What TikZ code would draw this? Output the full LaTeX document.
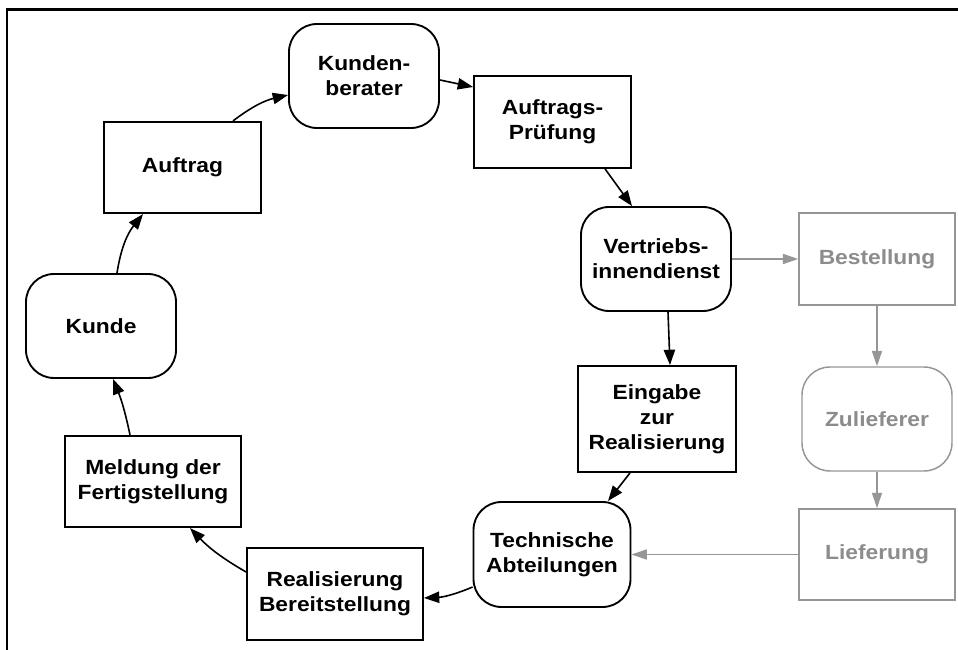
\documentclass[tikz,border=0pt]{standalone}
\usepackage{fontspec}
\setmainfont{Liberation Sans}[FakeStretch=1.11]
\usetikzlibrary{arrows.meta}
\definecolor{lgray}{RGB}{150,150,150}
\definecolor{tgray}{RGB}{140,140,140}
\begin{document}
\begin{tikzpicture}[x=0.75pt,y=0.75pt,
  every node/.style={font=\bfseries\fontsize{15.4pt}{18.75pt}\selectfont, align=center, inner sep=0pt},
  sq/.style={draw=black, line width=1.4pt, minimum width=117.75pt, minimum height=68.5pt},
  rd/.style={draw=black, line width=1.4pt, rounded corners=21pt, minimum width=112.5pt, minimum height=78pt},
  gsq/.style={sq, draw=lgray, line width=1.1pt, text=tgray},
  grd/.style={rd, draw=lgray, line width=1.1pt, text=tgray},
  arr/.style={line width=1.2pt, -{Triangle[length=11.5pt,width=8.5pt]}},
  garr/.style={line width=1.2pt, draw=lgray, -{Triangle[length=11.5pt,width=7.5pt]}, color=lgray}
]
\useasboundingbox (0,0) rectangle (958,650);
\draw[line width=1.6pt] (7,-5) -- (7,640.5) -- (965,640.5);

\node[rd] (kb) at (364,574) {Kunden-\\berater};
\node[sq] (auf) at (182.5,482.5) {Auftrag};
\node[rd] (kunde) at (101,324) {Kunde};
\node[sq, minimum height=69pt] (ap) at (552.5,528) {Auftrags-\\Prüfung};
\node[rd] (vi) at (656,391) {Vertriebs-\\innendienst};
\node[gsq, minimum width=117pt, minimum height=69pt] (best) at (877,391) {Bestellung};
\node[grd] (zul) at (877,231) {Zulieferer};
\node[gsq, minimum width=117pt] (lief) at (877,95.5) {Lieferung};
\node[sq, minimum width=118.5pt, minimum height=79.5pt] (ein) at (657,231) {Eingabe\\zur\\Realisierung};
\node[rd, minimum width=117.75pt, minimum height=78.75pt] (tech) at (552,95.5) {Technische\\Abteilungen};
\node[sq, minimum width=132pt, minimum height=69pt] (rb) at (335,56) {Realisierung\\Bereitstellung};
\node[sq, minimum width=132pt] (mf) at (153,168.5) {Meldung der\\Fertigstellung};

\draw[arr] ([xshift=12pt]kunde.north) to[bend left=15] ([xshift=-29.6pt]auf.south);
\draw[arr] ([xshift=37.9pt]auf.north) to[bend left=12] ([yshift=-14.25pt]kb.west);
\draw[arr] ([yshift=-3pt]kb.east) -- ([yshift=26.25pt]ap.west);
\draw[arr] ([xshift=39.4pt]ap.south) -- ([xshift=-18pt]vi.north);
\draw[arr] ([xshift=9pt]vi.south) -- ([xshift=9.75pt]ein.north);
\draw[garr] (vi.east) -- (best.west);
\draw[garr] (best.south) -- (zul.north);
\draw[garr] (zul.south) -- (lief.north);
\draw[garr] (lief.west) -- (tech.east);
\draw[arr] ([xshift=-20.25pt]ein.south) -- ([xshift=42pt]tech.north);
\draw[arr] ([yshift=-24.4pt]tech.west) to[bend left=10] ([yshift=-3pt]rb.east);
\draw[arr] ([yshift=16.5pt]rb.west) to[bend left=8] ([xshift=27.75pt]mf.south);
\draw[arr] ([xshift=-17.25pt]mf.north) to[bend right=5] ([xshift=9pt]kunde.south);
\end{tikzpicture}
\end{document}
